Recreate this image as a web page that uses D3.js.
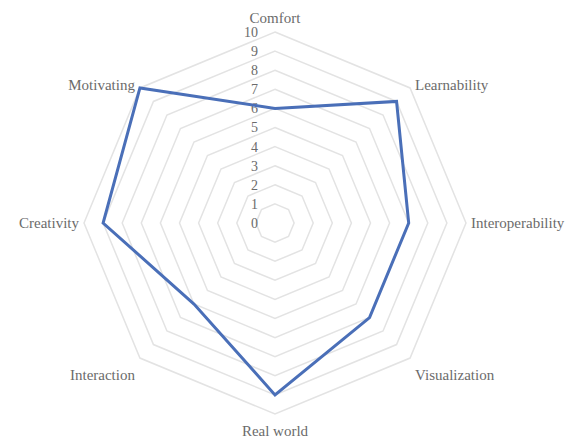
<!DOCTYPE html>
<meta charset="utf-8">
<style>
body { margin: 0; background: #fff; }
text { font-family: "Liberation Serif", "Times New Roman", serif; fill: #6b6b6b; }
.grid polygon { fill: none; stroke: #e3e3e3; stroke-width: 1.5px; }
</style>
<svg width="571" height="439"></svg>
<script src="https://cdnjs.cloudflare.com/ajax/libs/d3/7.8.5/d3.min.js"></script>
<script>
// categories clockwise from the top
const categories = ["Comfort", "Learnability", "Interoperability", "Visualization",
                    "Real world", "Interaction", "Creativity", "Motivating"];
const scores = [6, 9, 7, 7, 9, 6, 9, 10];
const ticks = [0, 1, 2, 3, 4, 5, 6, 7, 8, 9, 10];

const svg = d3.select("svg"),
  cx = 275, cy = 223;

const r = d3.scaleLinear().domain([0, 10]).range([0, 191]);
const angle = d3.scaleLinear().domain([0, categories.length]).range([0, 2 * Math.PI]);

function pt(i, v) {
  const a = angle(i);
  return [cx + r(v) * Math.sin(a), cy - r(v) * Math.cos(a)];
}

const g = svg.append("g");

// octagon rings
g.append("g").attr("class", "grid")
  .selectAll("polygon")
  .data(ticks.filter(t => t > 0))
  .enter().append("polygon")
  .attr("points", t => categories.map((c, i) => pt(i, t).join(",")).join(" "));

// tick labels up the Comfort axis
g.append("g").selectAll("text")
  .data(ticks)
  .enter().append("text")
  .attr("x", cx - 17)
  .attr("y", t => cy - r(t))
  .attr("dy", "0.35em")
  .attr("text-anchor", "end")
  .style("font-size", "14px")
  .text(t => t);

// data line
const radial = d3.lineRadial()
  .angle((d, i) => angle(i))
  .radius(d => r(d))
  .curve(d3.curveLinearClosed);

g.append("path")
  .datum(scores)
  .attr("transform", `translate(${cx},${cy})`)
  .attr("d", radial)
  .attr("fill", "none")
  .attr("stroke", "#4a6fb8")
  .attr("stroke-width", 3)
  .attr("stroke-linejoin", "miter");

// category labels
g.append("g").selectAll("text")
  .data(categories)
  .enter().append("text")
  .attr("x", (c, i) => {
    const p = pt(i, 10), s = Math.sin(angle(i));
    return p[0] + (Math.abs(s) < 0.01 ? 0 : s > 0 ? 5 : -5);
  })
  .attr("y", (c, i) => {
    const p = pt(i, 10), co = Math.cos(angle(i));
    if (Math.abs(co) < 0.01) return p[1];
    if (co > 0.9) return p[1] - 14;
    if (co < -0.9) return p[1] + 17;
    return p[1] + (co > 0 ? -3 : 17);
  })
  .attr("dy", "0.35em")
  .attr("text-anchor", (c, i) => {
    const s = Math.sin(angle(i));
    return Math.abs(s) < 0.01 ? "middle" : s > 0 ? "start" : "end";
  })
  .style("font-size", "15px")
  .text(c => c);
</script>
